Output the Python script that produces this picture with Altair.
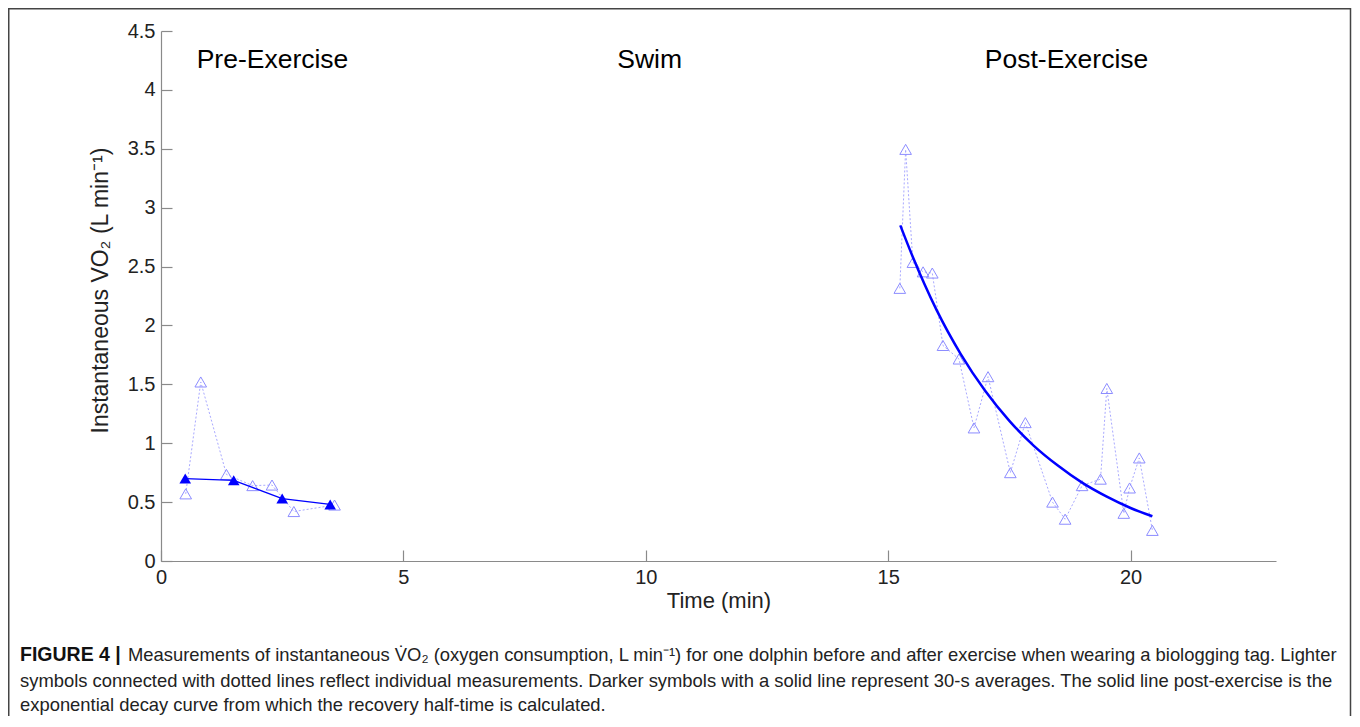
import altair as alt
import pandas as pd

# ---------------- data ----------------
pre_t = [0.51, 0.82, 1.35, 1.89, 2.29, 2.74, 3.58]
pre_v = [0.57, 1.52, 0.735, 0.64, 0.645, 0.42, 0.475]

avg_t = [0.50, 1.50, 2.50, 3.49]
avg_v = [0.70, 0.685, 0.53, 0.48]

post_t = [15.24, 15.36, 15.51, 15.72, 15.91, 16.13, 16.46, 16.77, 17.06, 17.52,
          17.83, 18.39, 18.65, 19.00, 19.38, 19.51, 19.86, 19.98, 20.18, 20.45]
post_v = [2.315, 3.495, 2.535, 2.455, 2.445, 1.83, 1.715, 1.13, 1.565, 0.75,
          1.175, 0.50, 0.355, 0.64, 0.695, 1.465, 0.405, 0.62, 0.875, 0.26]

fit_t = [15.25, 15.5, 15.75, 16.0, 16.5, 17.0, 17.5, 18.0, 18.5, 19.0, 19.5, 20.0, 20.45]
fit_v = [2.85, 2.59, 2.35, 2.13, 1.755, 1.445, 1.19, 0.98, 0.81, 0.665, 0.548, 0.45, 0.38]

phase_labels = ["Pre-Exercise", "Swim", "Post-Exercise"]
phase_x = [2.3, 10.08, 18.68]
phase_y = [4.19, 4.19, 4.19]

x_ticks = [0, 5, 10, 15, 20]
y_ticks = [0, 0.5, 1, 1.5, 2, 2.5, 3, 3.5, 4, 4.5]

caption_bold = "FIGURE 4 |"
caption_lines = [
    "Measurements of instantaneous V\u0307O\u2082 (oxygen consumption, L min\u207b\u00b9) for one dolphin before and after exercise when wearing a biologging tag. Lighter",
    "symbols connected with dotted lines reflect individual measurements. Darker symbols with a solid line represent 30-s averages. The solid line post-exercise is the",
    "exponential decay curve from which the recovery half-time is calculated.",
]

# ---------------- layout constants ----------------
W, H = 1115, 530
PAD_L, PAD_T, PAD_R, PAD_B = 153, 23, 76, 155
FONT = "Liberation Sans"
AXIS_GRAY = "#8a8a8a"
TEXT = "#222222"
LIGHT = "#8c8cff"
LIGHT_LINE = "#a9a9ff"
DARK = "#0000ff"
CAP_SIZE = 18.4

xs = alt.Scale(domain=[0, 23], nice=False, zero=False)
ys = alt.Scale(domain=[0, 4.5], nice=False, zero=False)

x_main = alt.Axis(values=x_ticks, tickSize=0, labelFontSize=20, labelColor=TEXT, labelFont=FONT,
                  labelPadding=6, domainColor=AXIS_GRAY, domainWidth=1.2, grid=False,
                  title="Time (min)", titleFontSize=22, titleFont=FONT, titleFontWeight="normal",
                  titleColor=TEXT, titlePadding=3, orient="bottom", labelFlush=False)
y_main = alt.Axis(values=y_ticks, tickSize=0, labelFontSize=20, labelColor=TEXT, labelFont=FONT,
                  labelPadding=6, domainColor=AXIS_GRAY, domainWidth=1.2, grid=False, format="~g",
                  title="Instantaneous VO\u2082 (L min\u207b\u00b9)", titleFontSize=23, titleFont=FONT,
                  titleFontWeight="normal", titleColor=TEXT, titleBaseline="middle",
                  titleAlign="left", titleX=-61, titleY=402, orient="left", labelFlush=False)
x_ticks_ax = alt.Axis(values=x_ticks, labels=False, domain=False, tickSize=11, offset=-11,
                      tickColor=AXIS_GRAY, tickWidth=1.2, grid=False, title=None, orient="bottom")
y_ticks_ax = alt.Axis(values=y_ticks, labels=False, domain=False, tickSize=11, offset=-11,
                      tickColor=AXIS_GRAY, tickWidth=1.2, grid=False, title=None, orient="left")

pre_df = pd.DataFrame({"t": pre_t, "v": pre_v})
avg_df = pd.DataFrame({"t": avg_t, "v": avg_v})
post_df = pd.DataFrame({"t": post_t, "v": post_v})
fit_df = pd.DataFrame({"t": fit_t, "v": fit_v})
phase_df = pd.DataFrame({"label": phase_labels, "t": phase_x, "v": phase_y})


def enc(ax_x=None, ax_y=None):
    return dict(
        x=alt.X("t:Q", scale=xs, axis=ax_x),
        y=alt.Y("v:Q", scale=ys, axis=ax_y),
    )


pre_line = alt.Chart(pre_df).mark_line(color=LIGHT_LINE, strokeWidth=1, strokeDash=[2, 2]).encode(
    **enc(x_main, y_main))
pre_pts = alt.Chart(pre_df).mark_point(shape="triangle-up", filled=False, color=LIGHT, size=135,
                                        strokeWidth=1, opacity=1).encode(**enc(x_ticks_ax, y_ticks_ax))
post_line = alt.Chart(post_df).mark_line(color=LIGHT_LINE, strokeWidth=1, strokeDash=[2, 2]).encode(**enc())
post_pts = alt.Chart(post_df).mark_point(shape="triangle-up", filled=False, color=LIGHT, size=135,
                                          strokeWidth=1, opacity=1).encode(**enc())
fit_line = alt.Chart(fit_df).mark_line(color=DARK, strokeWidth=2.5, interpolate="monotone").encode(**enc())
avg_line = alt.Chart(avg_df).mark_line(color=DARK, strokeWidth=1.3).encode(**enc())
avg_pts = alt.Chart(avg_df).mark_point(shape="triangle-up", filled=True, color=DARK, size=135,
                                        opacity=1).encode(**enc())

phase_txt = alt.Chart(phase_df).mark_text(font=FONT, fontSize=26.5, color="#000000", align="center",
                                           baseline="alphabetic").encode(
    x=alt.X("t:Q", scale=xs, axis=None), y=alt.Y("v:Q", scale=ys, axis=None), text="label:N")


def cap(text, x_px, y_px, bold=False, size=CAP_SIZE):
    return alt.Chart(pd.DataFrame({"s": [text]})).mark_text(
        font=FONT, fontSize=size, fontWeight="bold" if bold else "normal",
        color="#111111" if bold else "#222222", align="left", baseline="alphabetic"
    ).encode(x=alt.value(x_px - 161), y=alt.value(y_px - 31), text="s:N")


cap_layers = [
    cap(caption_bold, 20, 661, bold=True, size=19.5),
    cap(caption_lines[0], 128, 661),
    cap(caption_lines[1], 20, 687),
    cap(caption_lines[2], 20, 711),
]

frame = alt.Chart(pd.DataFrame({"f": [0]})).mark_rect(filled=False, stroke="#444444", strokeWidth=1.5).encode(
    x=alt.value(8.75 - 161), x2=alt.value(1350.5 - 161), y=alt.value(8.75 - 31), y2=alt.value(760))

chart = alt.layer(
    frame, pre_line, pre_pts, post_line, post_pts, fit_line, avg_line, avg_pts, phase_txt, *cap_layers
).resolve_axis(x="independent", y="independent").properties(
    width=W, height=H,
    autosize=alt.AutoSizeParams(type="none"),
    padding={"left": PAD_L, "top": PAD_T, "right": PAD_R, "bottom": PAD_B},
).configure(background="white").configure_view(strokeWidth=0, stroke="transparent")

chart.save("out.html", embed_options={"renderer": "svg", "actions": False})
